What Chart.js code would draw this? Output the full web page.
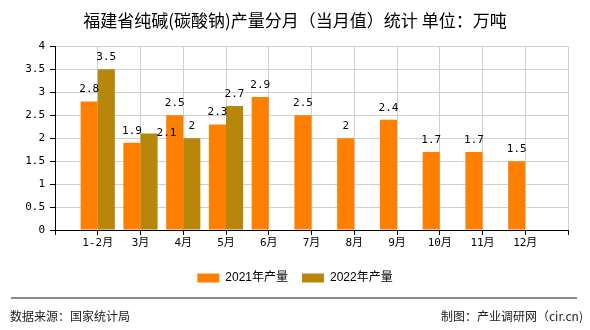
<!DOCTYPE html>
<html>
<head>
<meta charset="utf-8">
<script src="https://cdn.jsdelivr.net/npm/chart.js@4/dist/chart.umd.min.js"></script>
<style>
  html,body{margin:0;padding:0;background:#fff;}
  #wrap{position:relative;width:590px;height:330px;background:#fff;overflow:hidden;}
  #c{position:absolute;left:0;top:0;}
  #rule{position:absolute;left:11px;top:297px;width:566px;height:0;border-top:2px solid #8c8c8c;}
  .foot{position:absolute;top:308px;font:12px 'Noto Sans CJK SC','DejaVu Sans',sans-serif;color:#222;line-height:16px;white-space:nowrap;}
  #fl{left:10px;}
  #fr{right:7px;}
</style>
</head>
<body>
<div id="wrap">
  <canvas id="c" width="590" height="330"></canvas>
  <div id="rule"></div>
  <div class="foot" id="fl">数据来源：国家统计局</div>
  <div class="foot" id="fr">制图：产业调研网（cir.cn)</div>
</div>
<script>
const titleText = '福建省纯碱(碳酸钠)产量分月（当月值）统计 单位：万吨';
const categories = ['1-2月','3月','4月','5月','6月','7月','8月','9月','10月','11月','12月'];
const series2021 = [2.8, 1.9, 2.5, 2.3, 2.9, 2.5, 2, 2.4, 1.7, 1.7, 1.5];
const series2022 = [3.5, 2.1, 2, 2.7, null, null, null, null, null, null, null];
const seriesNames = ['2021年产量', '2022年产量'];
const yTicks = [0, 0.5, 1, 1.5, 2, 2.5, 3, 3.5, 4];

// padded with an empty slot at each end so the categories sit on the grid lines
const labels = [''].concat(categories, ['']);
const pad = arr => [null].concat(arr, [null]);

const numFont = {family: "'DejaVu Sans Mono','Noto Sans CJK SC',monospace", size: 11};

const valueLabels = {
  id: 'valueLabels',
  afterDatasetsDraw(chart) {
    const ctx = chart.ctx;
    ctx.save();
    ctx.font = numFont.size + 'px ' + numFont.family;
    ctx.fillStyle = '#000';
    ctx.textAlign = 'center';
    ctx.textBaseline = 'middle';
    const boxes = [];
    chart.data.datasets.forEach((ds, di) => {
      const meta = chart.getDatasetMeta(di);
      meta.data.forEach((el, i) => {
        const v = ds.data[i];
        if (v === null || v === undefined) return;
        const txt = String(v);
        const w = ctx.measureText(txt).width;
        let x = el.x, y = el.y - 12;
        const overlaps = (bx, by) => boxes.some(b =>
          Math.abs(b.x - bx) < (b.w + w) / 2 + 2 && Math.abs(b.y - by) < 14);
        if (overlaps(x, y)) {
          x = el.x + el.width / 2 + w / 2 - 1;
          y = el.y;
        }
        boxes.push({x, y, w});
        ctx.fillText(txt, x, y);
      });
    });
    ctx.restore();
  }
};

new Chart(document.getElementById('c'), {
  type: 'bar',
  data: {
    labels: labels,
    datasets: [
      {label: seriesNames[0], data: pad(series2021), backgroundColor: '#FF8000', borderWidth: 0},
      {label: seriesNames[1], data: pad(series2022), backgroundColor: '#B8860B', borderWidth: 0}
    ]
  },
  options: {
    responsive: false,
    animation: false,
    devicePixelRatio: 1,
    layout: {padding: {left: 0, right: 0, top: 0, bottom: 36}},
    datasets: {bar: {categoryPercentage: 0.8, barPercentage: 1.0}},
    plugins: {
      title: {
        display: true, text: titleText, color: '#000',
        font: {family: "'Noto Sans CJK SC',sans-serif", size: 17, weight: 'normal', lineHeight: 1.2},
        padding: {top: 10, bottom: 16}
      },
      legend: {
        display: true, position: 'bottom',
        labels: {
          boxWidth: 22, boxHeight: 9, padding: 14, color: '#000',
          font: {family: "'Liberation Sans','Noto Sans CJK SC',sans-serif", size: 12}
        }
      },
      tooltip: {enabled: false}
    },
    scales: {
      x: {
        type: 'category',
        offset: false,
        grid: {display: true, offset: false, color: '#d0d0d0', tickColor: '#000', tickLength: 5, drawOnChartArea: true},
        border: {display: true, color: '#000', width: 1},
        ticks: {color: '#000', font: numFont, padding: 2, autoSkip: false, maxRotation: 0},
        afterFit(scale) { scale.height = 28; }
      },
      y: {
        min: 0, max: 4,
        afterBuildTicks(scale) { scale.ticks = yTicks.map(v => ({value: v})); },
        grid: {color: '#d0d0d0', tickColor: '#000', tickLength: 5},
        border: {display: true, color: '#000', width: 1},
        ticks: {color: '#000', font: numFont, padding: 5, callback: v => String(v)},
        afterFit(scale) { scale.width = 55; }
      },
      yRightSpace: {
        type: 'linear', position: 'right', display: true,
        grid: {display: false, drawOnChartArea: false},
        border: {display: false},
        ticks: {display: false},
        afterFit(scale) { scale.width = 22; }
      }
    }
  },
  plugins: [valueLabels]
});
</script>
</body>
</html>
